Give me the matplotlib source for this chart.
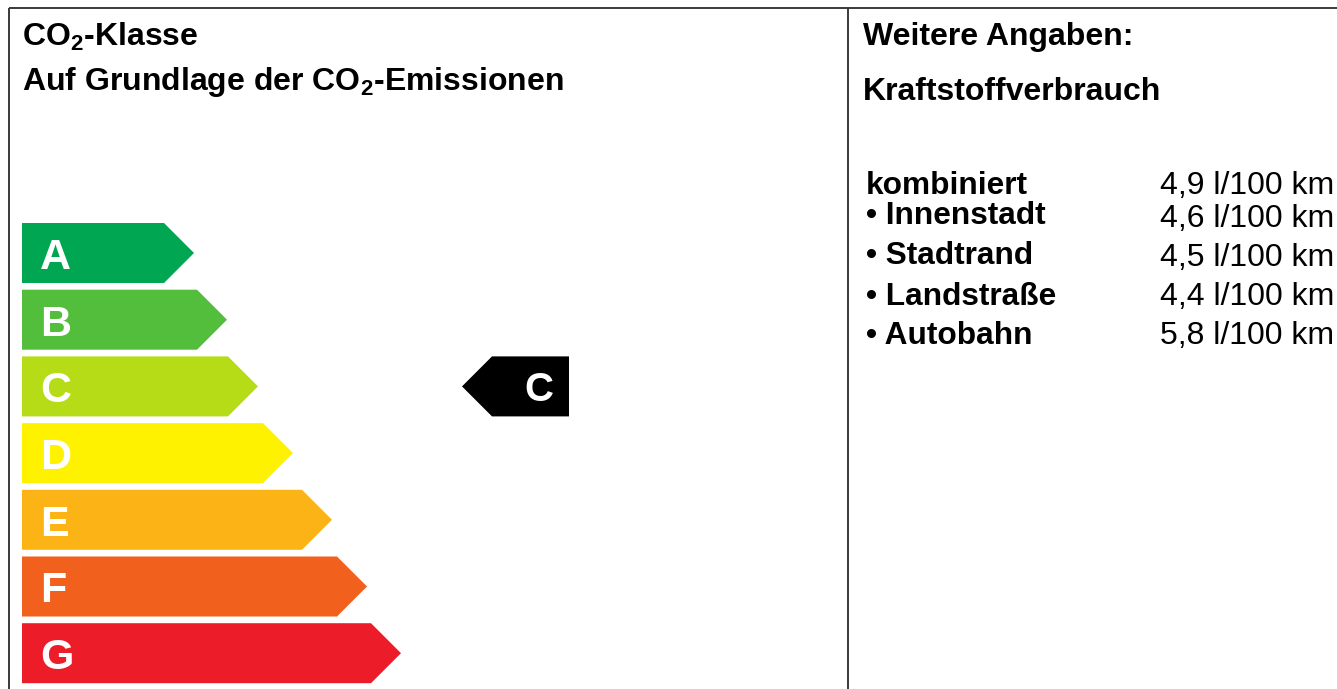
import matplotlib.pyplot as plt
from matplotlib.patches import Polygon

# ---------------------------
# Data
# ---------------------------
classes = ['A', 'B', 'C', 'D', 'E', 'F', 'G']
class_colors = ['#00a651', '#52be3b', '#b6dc18', '#fff200',
                '#fbb315', '#f2601e', '#ed1c29']
# x position of each arrow tip (pixels from the left)
bar_tips = [194, 227, 258, 293, 332, 367, 401]
current_class = 'C'

usage_labels = ['kombiniert', 'Innenstadt', 'Stadtrand', 'Landstraße', 'Autobahn']
usage_values = [4.9, 4.6, 4.5, 4.4, 5.8]
usage_unit = 'l/100 km'

# ---------------------------
# Layout (pixel units)
# ---------------------------
W, H = 1337, 689
bar_left = 22
bar_top0 = 223
bar_pitch = 66.7
bar_h = 60
tip_depth = 30
split_x = 848

plt.rcParams['font.family'] = ['Liberation Sans', 'DejaVu Sans']
plt.rcParams['mathtext.fontset'] = 'custom'
plt.rcParams['mathtext.bf'] = 'Liberation Sans:bold'
plt.rcParams['mathtext.rm'] = 'Liberation Sans'

fig = plt.figure(figsize=(W / 100, H / 100), dpi=100)
ax = fig.add_axes([0, 0, 1, 1])
ax.set_xlim(0, W)
ax.set_ylim(H, 0)
ax.axis('off')

# frame lines
line_kw = dict(color='#3a3a3a', lw=1.4, solid_capstyle='butt')
ax.plot([9, W], [8, 8], **line_kw)
ax.plot([9, 9], [8, H], **line_kw)
ax.plot([split_x, split_x], [8, H], **line_kw)

# headings
head_kw = dict(fontsize=23, fontweight='bold', va='baseline')
ax.text(22, 46, r'CO$_\mathbf{2}$-Klasse', **head_kw)
ax.text(22, 90, r'Auf Grundlage der CO$_\mathbf{2}$-Emissionen', **head_kw)
ax.text(863, 45, 'Weitere Angaben:', **head_kw)
ax.text(863, 100, 'Kraftstoffverbrauch', **head_kw)

# ---------------------------
# Class arrows
# ---------------------------
for i, (cls, col, tip) in enumerate(zip(classes, class_colors, bar_tips)):
    top = bar_top0 + i * bar_pitch
    bot = top + bar_h
    mid = top + bar_h / 2
    pts = [(bar_left, top), (tip - tip_depth, top), (tip, mid),
           (tip - tip_depth, bot), (bar_left, bot)]
    ax.add_patch(Polygon(pts, closed=True, facecolor=col, edgecolor='none'))
    ax.text(40, mid + 16, cls, fontsize=31, fontweight='bold', color='white',
            va='baseline', ha='left')

# marker of the current class
ci = classes.index(current_class)
top = bar_top0 + ci * bar_pitch
bot = top + bar_h
mid = top + bar_h / 2
mk_tip, mk_right = 462, 569
pts = [(mk_tip, mid), (mk_tip + tip_depth, top), (mk_right, top),
       (mk_right, bot), (mk_tip + tip_depth, bot)]
ax.add_patch(Polygon(pts, closed=True, facecolor='black', edgecolor='none'))
ax.text(539, mid + 15, current_class, fontsize=29, fontweight='bold',
        color='white', va='baseline', ha='center')

# ---------------------------
# Fuel consumption table
# ---------------------------
row_base = [194, 224, 264, 305, 344]
val_base = [194, 227, 266, 305, 344]
for i, (lab, val) in enumerate(zip(usage_labels, usage_values)):
    txt = lab if i == 0 else '• ' + lab
    ax.text(866, row_base[i], txt, fontsize=22.8, fontweight='bold', va='baseline')
    vtxt = f'{val:.1f}'.replace('.', ',') + ' ' + usage_unit
    ax.text(1160, val_base[i], vtxt, fontsize=23, va='baseline')

fig.savefig('out.png', dpi=100)
